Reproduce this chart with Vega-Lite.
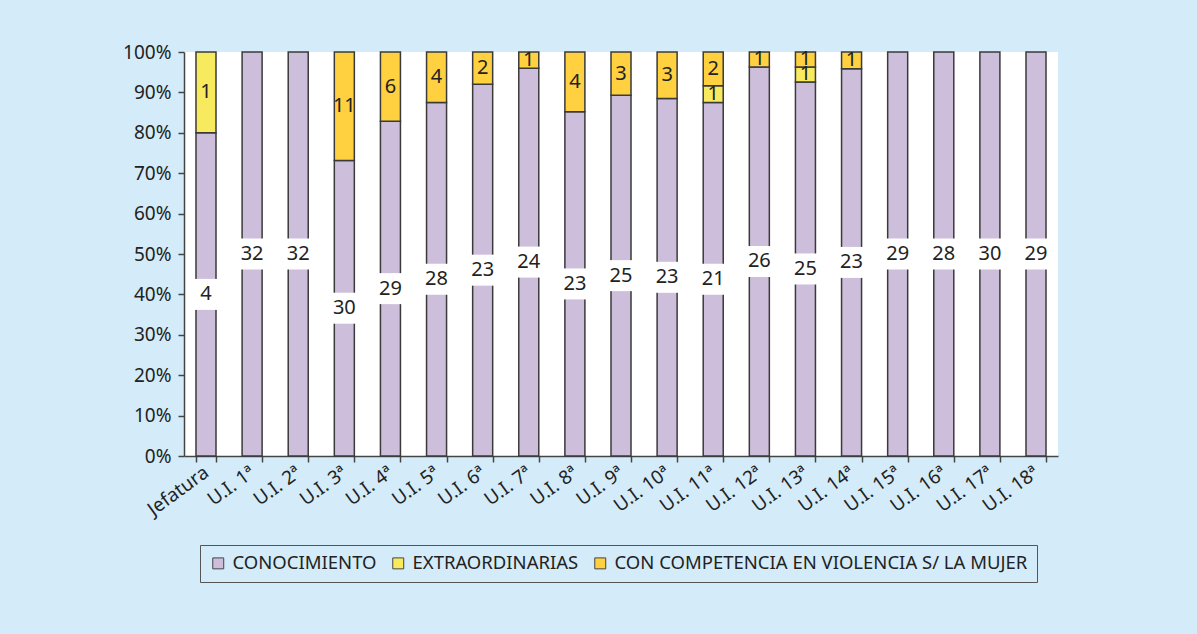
{
  "$schema": "https://vega.github.io/schema/vega-lite/v6.json",
  "width": 874,
  "height": 404,
  "autosize": {"type": "none"},
  "padding": {"left": 184, "top": 52, "right": 139, "bottom": 178},
  "background": "#d4ecf9",
  "config": {
    "view": {"fill": "#ffffff", "stroke": null},
    "font": "Noto Sans",
    "axis": {"labelFont": "Noto Sans", "labelFontSize": 19, "labelColor": "#222222", "domainColor": "#444444", "tickColor": "#444444", "domainWidth": 1.5, "tickWidth": 1.5, "grid": false, "title": null},
    "legend": {
      "orient": "none", "legendX": 16, "legendY": 493, "direction": "horizontal",
      "strokeColor": "#555555", "fillColor": "#d4ecf9", "padding": 9,
      "symbolType": "square", "symbolSize": 120, "symbolStrokeColor": "#444444", "symbolStrokeWidth": 1, "symbolOpacity": 1,
      "labelFont": "Noto Sans", "labelFontSize": 18.5, "labelColor": "#222222", "labelLimit": 700, "labelOffset": 5, "columnPadding": 12
    }
  },
  "data": {
    "values": [
      {"u": "Jefatura", "s": "CONOCIMIENTO", "o": 1, "n": 4},
      {"u": "Jefatura", "s": "EXTRAORDINARIAS", "o": 2, "n": 1},
      {"u": "U.I. 1ª", "s": "CONOCIMIENTO", "o": 1, "n": 32},
      {"u": "U.I. 2ª", "s": "CONOCIMIENTO", "o": 1, "n": 32},
      {"u": "U.I. 3ª", "s": "CONOCIMIENTO", "o": 1, "n": 30},
      {"u": "U.I. 3ª", "s": "CON COMPETENCIA EN VIOLENCIA S/ LA MUJER", "o": 3, "n": 11},
      {"u": "U.I. 4ª", "s": "CONOCIMIENTO", "o": 1, "n": 29},
      {"u": "U.I. 4ª", "s": "CON COMPETENCIA EN VIOLENCIA S/ LA MUJER", "o": 3, "n": 6},
      {"u": "U.I. 5ª", "s": "CONOCIMIENTO", "o": 1, "n": 28},
      {"u": "U.I. 5ª", "s": "CON COMPETENCIA EN VIOLENCIA S/ LA MUJER", "o": 3, "n": 4},
      {"u": "U.I. 6ª", "s": "CONOCIMIENTO", "o": 1, "n": 23},
      {"u": "U.I. 6ª", "s": "CON COMPETENCIA EN VIOLENCIA S/ LA MUJER", "o": 3, "n": 2},
      {"u": "U.I. 7ª", "s": "CONOCIMIENTO", "o": 1, "n": 24},
      {"u": "U.I. 7ª", "s": "CON COMPETENCIA EN VIOLENCIA S/ LA MUJER", "o": 3, "n": 1},
      {"u": "U.I. 8ª", "s": "CONOCIMIENTO", "o": 1, "n": 23},
      {"u": "U.I. 8ª", "s": "CON COMPETENCIA EN VIOLENCIA S/ LA MUJER", "o": 3, "n": 4},
      {"u": "U.I. 9ª", "s": "CONOCIMIENTO", "o": 1, "n": 25},
      {"u": "U.I. 9ª", "s": "CON COMPETENCIA EN VIOLENCIA S/ LA MUJER", "o": 3, "n": 3},
      {"u": "U.I. 10ª", "s": "CONOCIMIENTO", "o": 1, "n": 23},
      {"u": "U.I. 10ª", "s": "CON COMPETENCIA EN VIOLENCIA S/ LA MUJER", "o": 3, "n": 3},
      {"u": "U.I. 11ª", "s": "CONOCIMIENTO", "o": 1, "n": 21},
      {"u": "U.I. 11ª", "s": "EXTRAORDINARIAS", "o": 2, "n": 1},
      {"u": "U.I. 11ª", "s": "CON COMPETENCIA EN VIOLENCIA S/ LA MUJER", "o": 3, "n": 2},
      {"u": "U.I. 12ª", "s": "CONOCIMIENTO", "o": 1, "n": 26},
      {"u": "U.I. 12ª", "s": "CON COMPETENCIA EN VIOLENCIA S/ LA MUJER", "o": 3, "n": 1},
      {"u": "U.I. 13ª", "s": "CONOCIMIENTO", "o": 1, "n": 25},
      {"u": "U.I. 13ª", "s": "EXTRAORDINARIAS", "o": 2, "n": 1},
      {"u": "U.I. 13ª", "s": "CON COMPETENCIA EN VIOLENCIA S/ LA MUJER", "o": 3, "n": 1},
      {"u": "U.I. 14ª", "s": "CONOCIMIENTO", "o": 1, "n": 23},
      {"u": "U.I. 14ª", "s": "CON COMPETENCIA EN VIOLENCIA S/ LA MUJER", "o": 3, "n": 1},
      {"u": "U.I. 15ª", "s": "CONOCIMIENTO", "o": 1, "n": 29},
      {"u": "U.I. 16ª", "s": "CONOCIMIENTO", "o": 1, "n": 28},
      {"u": "U.I. 17ª", "s": "CONOCIMIENTO", "o": 1, "n": 30},
      {"u": "U.I. 18ª", "s": "CONOCIMIENTO", "o": 1, "n": 29}
    ]
  },
  "encoding": {
    "x": {
      "field": "u", "type": "nominal", "sort": null,
      "scale": {"paddingInner": 0.566, "paddingOuter": 0.26},
      "axis": {"labelAngle": -36, "labelAlign": "right", "labelBaseline": "middle", "labelPadding": 8, "tickBand": "extent", "tickSize": 6, "labelOverlap": false}
    },
    "order": {"field": "o", "type": "quantitative", "sort": "ascending"},
    "detail": {"field": "s", "type": "nominal"}
  },
  "layer": [
    {
      "mark": {"type": "bar", "stroke": "#3a3a3a", "strokeWidth": 1.5},
      "encoding": {
        "y": {"field": "n", "type": "quantitative", "stack": "normalize", "scale": {"domain": [0, 1]}, "axis": {"format": ".0%", "values": [0, 0.1, 0.2, 0.3, 0.4, 0.5, 0.6, 0.7, 0.8, 0.9, 1], "tickSize": 6, "labelPadding": 7}},
        "color": {
          "field": "s", "type": "nominal", "title": null,
          "scale": {"domain": ["CONOCIMIENTO", "EXTRAORDINARIAS", "CON COMPETENCIA EN VIOLENCIA S/ LA MUJER"], "range": ["#cdbfdc", "#f7ea5f", "#ffd040"]}
        }
      }
    },
    {
      "mark": {"type": "point", "shape": "M-0.82,-1H0.82V1H-0.82Z", "filled": true, "fill": "#ffffff", "strokeWidth": 0, "size": 961},
      "encoding": {
        "y": {"field": "n", "type": "quantitative", "stack": "normalize", "bandPosition": 0.5},
        "opacity": {"condition": {"test": "datum.o == 1", "value": 1}, "value": 0}
      }
    },
    {
      "mark": {"type": "text", "fontSize": 20, "color": "#222222", "baseline": "middle", "align": "center"},
      "encoding": {
        "y": {"field": "n", "type": "quantitative", "stack": "normalize", "bandPosition": 0.5},
        "text": {"field": "n", "type": "quantitative"}
      }
    }
  ]
}
